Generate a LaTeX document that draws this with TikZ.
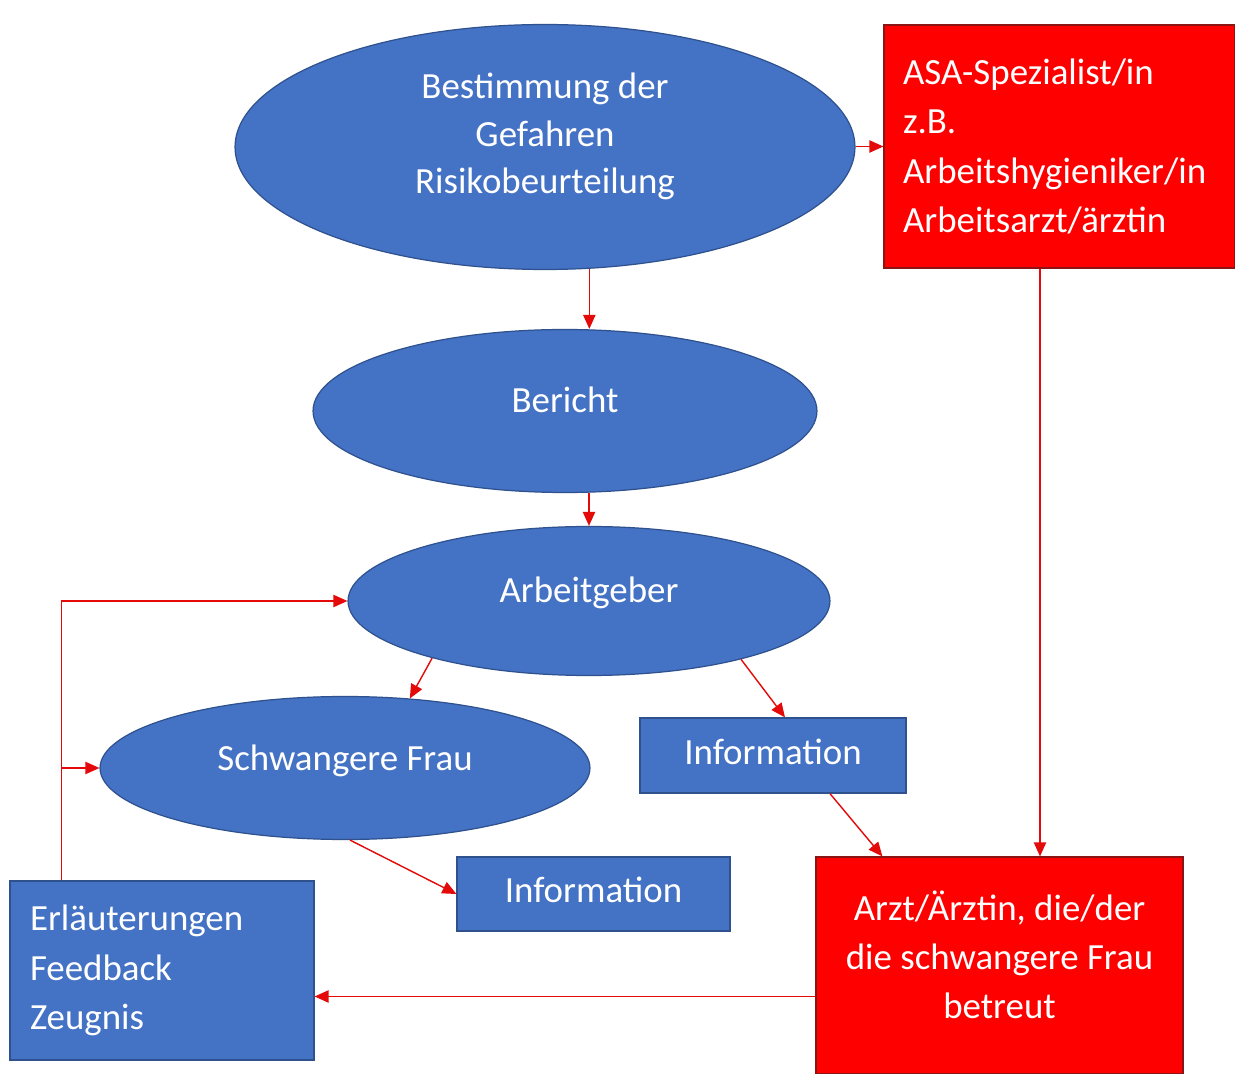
\documentclass[tikz,border=0pt]{standalone}
\usepackage{fontspec}
\setmainfont{Carlito}
\usetikzlibrary{shapes.geometric, arrows.meta, positioning}
\definecolor{ppblue}{RGB}{68,114,196}
\definecolor{ppblueline}{RGB}{47,82,143}
\definecolor{ppred}{RGB}{255,0,0}
\definecolor{ppredline}{RGB}{140,20,20}
\definecolor{arrowred}{RGB}{228,10,10}

\begin{document}
\begin{tikzpicture}[
    x=0.02cm, y=-0.02cm,
    bluebubble/.style={ellipse, draw=ppblueline, fill=ppblue, line width=0.7pt, inner sep=0pt, align=center, text=white, font=\fontsize{21}{27}\selectfont},
    bluebox/.style={rectangle, draw=ppblueline, fill=ppblue, line width=0.7pt, inner sep=0pt, align=center, text=white, font=\fontsize{21}{28}\selectfont},
    redbox/.style={rectangle, draw=ppredline, fill=ppred, line width=0.7pt, inner sep=0pt, align=center, text=white, font=\fontsize{21}{28}\selectfont},
    arrow/.style={-{Triangle[length=8pt, width=7pt]}, line width=0.8pt, arrowred}
]
\fill[white] (0,0) rectangle (1235,1074);
\useasboundingbox (0,0) rectangle (1235,1074);

% Ellipses
\node[bluebubble, minimum width=12.4cm, minimum height=4.9cm, text depth=15.7pt] (bestimmung) at (545,147) {Bestimmung der\\Gefahren\\Risikobeurteilung};
\node[bluebubble, minimum width=10.08cm, minimum height=3.26cm, text depth=12.4pt] (bericht) at (565,411) {Bericht};
\node[bluebubble, minimum width=9.64cm, minimum height=2.98cm, text depth=13.3pt] (arbeitgeber) at (589,601) {Arbeitgeber};
\node[bluebubble, minimum width=9.8cm, minimum height=2.86cm, text depth=12.3pt] (schwangere) at (345,768) {Schwangere Frau};

% Boxes
\node[redbox, minimum width=7.02cm, minimum height=4.86cm, text width=6.26cm, align=left] (asa) at (1059.5,146.5) {ASA-Spezialist/in\\z.B.\\Arbeitshygieniker/in\\Arbeitsarzt/ärztin};
\node[bluebox, minimum width=5.32cm, minimum height=1.5cm, text depth=4.5pt] (info1) at (773,755.5) {Information};
\node[bluebox, minimum width=5.46cm, minimum height=1.48cm, text depth=4.5pt] (info2) at (593.5,894) {Information};
\node[redbox, minimum width=7.34cm, minimum height=4.34cm, text depth=12.4pt] (arzt) at (999.5,965.5) {Arzt/Ärztin, die/der\\die schwangere Frau\\betreut};
\node[bluebox, minimum width=6.08cm, minimum height=3.58cm, text width=5.28cm, align=left] (erl) at (162,970.5) {Erläuterungen\\Feedback\\Zeugnis};

% Connectors
\draw[arrow] (bestimmung.east |- asa.west) -- (asa.west);
\draw[arrow] (bestimmung.-70) -- (bestimmung.-70 |- bericht.north);
\draw[arrow] (arbeitgeber.north |- bericht.south) -- (arbeitgeber.north);
\draw[arrow] (arbeitgeber.200) -- (schwangere.47);
\draw[arrow] (arbeitgeber.-21) -- ([xshift=0.24cm]info1.north);
\draw[arrow] ([xshift=1.14cm]info1.south) -- ([xshift=1.34cm]arzt.north west);
\draw[arrow] (schwangere.-86) -- (info2.west);
\draw[arrow] ([xshift=-0.39cm]asa.south) -- ([xshift=-0.39cm]asa.south |- arzt.north);
\draw[arrow] ([yshift=-0.62cm]arzt.west) -- ([yshift=-0.62cm]arzt.west -| erl.east);

% Loop back
\coordinate (loop) at ([xshift=1.04cm]erl.north west);
\draw[arrow] (loop) |- (arbeitgeber.west);
\draw[arrow] (loop |- schwangere.west) -- (schwangere.west);

\end{tikzpicture}
\end{document}
